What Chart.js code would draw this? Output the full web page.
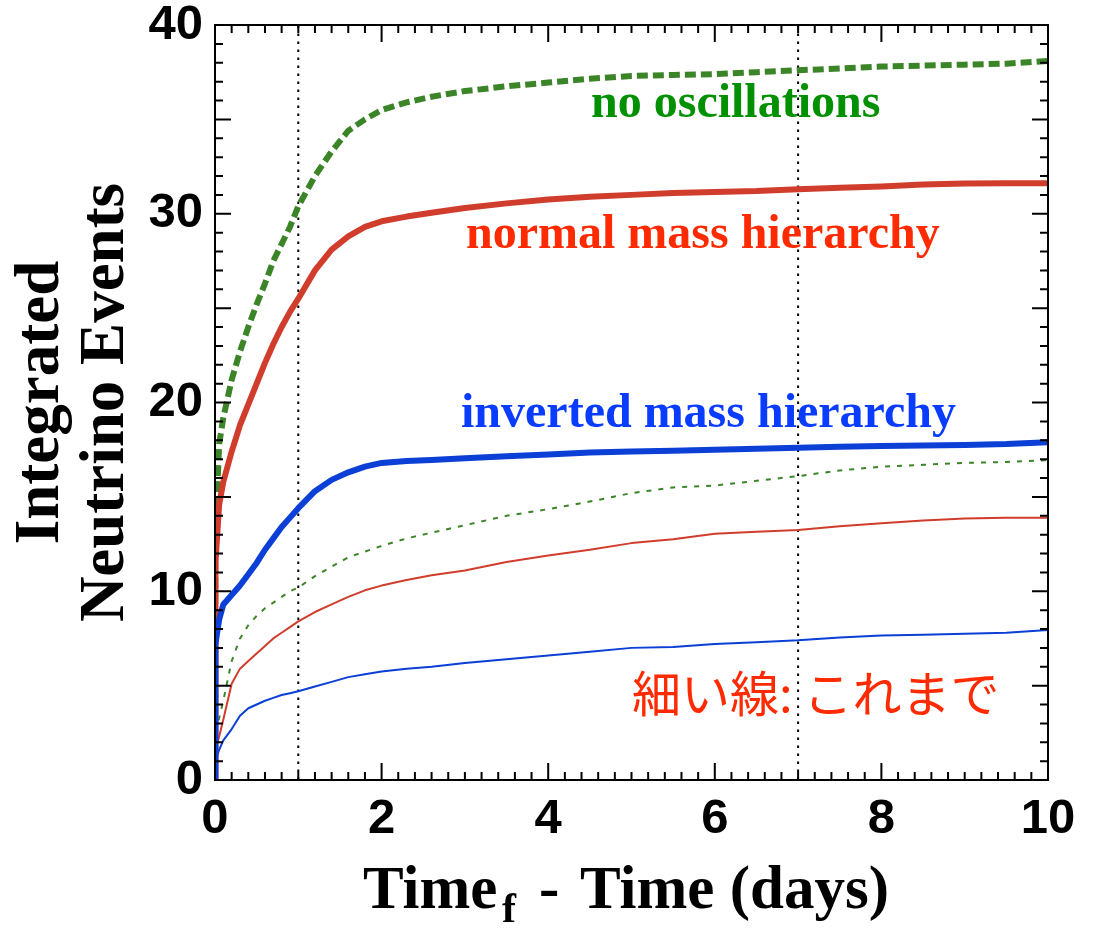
<!DOCTYPE html>
<html>
<head>
<meta charset="utf-8">
<script src="https://cdn.jsdelivr.net/npm/chart.js@4.4.0/dist/chart.umd.min.js"></script>
<style>
  html, body { margin:0; padding:0; background:#fff; }
  #wrap { width:1094px; height:928px; }
</style>
</head>
<body>
<div id="wrap"><canvas id="chart" width="1094" height="928"></canvas></div>
<script>
'use strict';

// ---- Sample times (days) shared by all cumulative curves ----
const days = [0, 0.005, 0.05, 0.1, 0.2, 0.3, 0.4, 0.5, 0.6, 0.7, 0.8, 0.9, 1.0,
  1.2, 1.4, 1.6, 1.8, 2.0, 2.3, 2.6, 3.0, 3.5, 4.0, 4.5, 5.0, 5.5, 6.0, 6.5,
  7.0, 7.5, 8.0, 8.5, 9.0, 9.5, 10.0];

// ---- Integrated events, new model (thick lines) ----
const newNoOsc = [0, 13, 17.8, 19.2, 21.2, 22.7, 24.0, 25.2, 26.3, 27.5, 28.4, 29.3, 30.4,
  32.0, 33.3, 34.4, 35.0, 35.5, 35.9, 36.2, 36.5, 36.75, 36.95, 37.15, 37.3, 37.35, 37.4, 37.5,
  37.6, 37.7, 37.8, 37.85, 37.9, 37.95, 38.1];
const newNormal = [0, 11.5, 14.6, 15.8, 17.4, 18.8, 19.9, 21.0, 22.1, 23.1, 24.0, 24.8, 25.5,
  27.0, 28.1, 28.8, 29.3, 29.6, 29.85, 30.05, 30.3, 30.55, 30.75, 30.9, 31.0, 31.1, 31.15, 31.2,
  31.3, 31.38, 31.45, 31.55, 31.6, 31.62, 31.62];
const newInverted = [0, 7.2, 8.5, 9.3, 9.8, 10.3, 10.9, 11.5, 12.2, 12.8, 13.4, 13.9, 14.4,
  15.3, 15.9, 16.3, 16.6, 16.8, 16.9, 16.95, 17.05, 17.15, 17.25, 17.35, 17.4, 17.45, 17.5, 17.55,
  17.6, 17.65, 17.7, 17.72, 17.75, 17.8, 17.9];

// ---- Integrated events, previous model (thin lines) ----
const oldNoOsc = [0, 2.5, 3.3, 4.2, 6.3, 7.5, 8.2, 8.7, 9.1, 9.4, 9.7, 10.0, 10.2,
  10.8, 11.3, 11.8, 12.1, 12.4, 12.8, 13.1, 13.5, 14.0, 14.35, 14.75, 15.2, 15.5, 15.6, 15.85,
  16.1, 16.4, 16.6, 16.7, 16.8, 16.85, 16.95];
const oldNormal = [0, 1.6, 2.3, 3.2, 5.1, 5.9, 6.3, 6.7, 7.1, 7.5, 7.8, 8.1, 8.4,
  8.9, 9.3, 9.7, 10.05, 10.3, 10.6, 10.85, 11.1, 11.55, 11.9, 12.2, 12.55, 12.75, 13.05, 13.15,
  13.25, 13.45, 13.6, 13.75, 13.85, 13.9, 13.9];
const oldInverted = [0, 1.0, 1.6, 2.1, 2.7, 3.4, 3.8, 4.0, 4.2, 4.35, 4.5, 4.6, 4.7,
  4.95, 5.2, 5.45, 5.6, 5.75, 5.9, 6.0, 6.2, 6.4, 6.6, 6.8, 7.0, 7.05, 7.2, 7.3,
  7.4, 7.55, 7.65, 7.7, 7.75, 7.8, 7.95];

// ---- Reference times marked with dotted verticals ----
const markerDays = [1, 7];
const yRange = [0, 40];

const GREEN = '#3c8428', RED = '#d03d2c', BLUE = '#0b3fd6';
const pts = ys => days.map((d, i) => ({ x: d, y: ys[i] }));

const curve = (label, ys, color, width, dash, order) => ({
  label, data: pts(ys), borderColor: color, borderWidth: width, borderDash: dash,
  pointRadius: 0, tension: 0, fill: false, order, borderJoinStyle: 'round'
});

const datasets = [
  ...markerDays.map(d => ({
    label: 'day ' + d, data: yRange.map(v => ({ x: d, y: v })),
    borderColor: '#000', borderWidth: 2, borderDash: [2.5, 5.5], pointRadius: 0, order: 9
  })),
  curve('old no osc',   oldNoOsc,    GREEN, 2, [5, 7], 8),
  curve('old normal',   oldNormal,   RED,   2, [],     7),
  curve('old inverted', oldInverted, BLUE,  2, [],     6),
  curve('no osc',       newNoOsc,    GREEN, 6, [11, 5], 5),
  curve('normal',       newNormal,   RED,   6, [],     4),
  curve('inverted',     newInverted, BLUE,  6, [],     3)
];

// ---- Text labels inside the frame ----
const notes = [
  { text: 'no oscillations',         color: '#009000', x: 591, y: 117, font: 'bold 48px "Liberation Serif"' },
  { text: 'normal mass hierarchy',   color: '#ff2a00', x: 466, y: 248, font: 'bold 48px "Liberation Serif"' },
  { text: 'inverted mass hierarchy', color: '#0a3cff', x: 461, y: 427, font: 'bold 48px "Liberation Serif"' },
  { text: '細い線: これまで',          color: '#ff2a00', x: 632, y: 712, font: '49px "Noto Sans CJK JP"' }
];

// frame + ROOT-style inward ticks on all four sides
const frameTicks = {
  id: 'frameTicks',
  afterDatasetsDraw(chart) {
    const { ctx, chartArea: a, scales: { x, y } } = chart;
    ctx.save();
    ctx.strokeStyle = '#000';
    ctx.lineWidth = 2;
    ctx.beginPath();
    for (let i = 0; i <= 50; i++) {
      const px = x.getPixelForValue(i * 0.2), len = i % 10 === 0 ? 17 : 8;
      ctx.moveTo(px, a.bottom); ctx.lineTo(px, a.bottom - len);
      ctx.moveTo(px, a.top);    ctx.lineTo(px, a.top + len);
    }
    for (let v = 0; v <= 40; v++) {
      const py = y.getPixelForValue(v), len = v % 5 === 0 ? 16 : 8;
      ctx.moveTo(a.left, py);  ctx.lineTo(a.left + len, py);
      ctx.moveTo(a.right, py); ctx.lineTo(a.right - len, py);
    }
    ctx.stroke();
    ctx.strokeRect(a.left, a.top, a.right - a.left, a.bottom - a.top);
    ctx.restore();
  },
  afterDraw(chart) {
    const ctx = chart.ctx;
    ctx.save();
    ctx.textBaseline = 'alphabetic';
    notes.forEach(n => { ctx.font = n.font; ctx.fillStyle = n.color; ctx.fillText(n.text, n.x, n.y); });

    // x title with subscript f
    ctx.fillStyle = '#000';
    ctx.font = 'bold 61px "Liberation Serif"';
    ctx.fillText('Time', 363, 908);
    ctx.fillText('-', 539, 908);
    ctx.fillText('Time (days)', 580, 908);
    ctx.font = 'bold 42px "Liberation Serif"';
    ctx.fillText('f', 502, 922);
    ctx.restore();
  }
};

const tickFont = { family: '"Liberation Sans", Arial, sans-serif', size: 49, weight: 'bold' };

new Chart(document.getElementById('chart').getContext('2d'), {
  type: 'line',
  data: { datasets },
  options: {
    responsive: false, animation: false, devicePixelRatio: 1,
    layout: { padding: { left: 0, top: 25, right: 46, bottom: 0 } },
    plugins: { legend: { display: false }, tooltip: { enabled: false } },
    scales: {
      x: {
        type: 'linear', min: 0, max: 10,
        ticks: { stepSize: 2, color: '#000', font: tickFont, padding: 10, maxRotation: 0, autoSkip: false },
        grid: { display: false, drawTicks: false }, border: { display: false },
        afterFit: s => { s.height = 148; s.paddingLeft = 0; s.paddingRight = 0; }
      },
      y: {
        min: yRange[0], max: yRange[1],
        ticks: { stepSize: 10, color: '#000', font: tickFont, padding: 12 },
        grid: { display: false, drawTicks: false }, border: { display: false },
        title: {
          display: true, text: ['Integrated', 'Neutrino Events'], color: '#000',
          font: { family: '"Liberation Serif", serif', size: 63, weight: 'bold', lineHeight: 1.03 },
          padding: { top: 9, bottom: 0 }
        },
        afterFit: s => { s.width = 215; s.paddingTop = 0; s.paddingBottom = 0; }
      }
    }
  },
  plugins: [frameTicks]
});
</script>
</body>
</html>
